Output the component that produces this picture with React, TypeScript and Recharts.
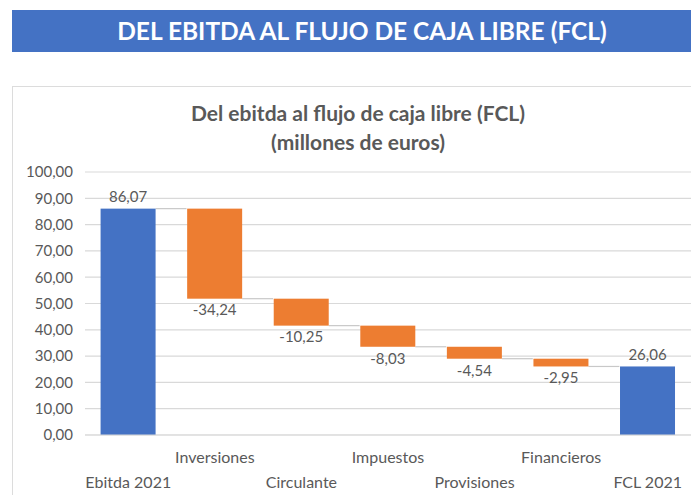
import { BarChart, Bar, XAxis, YAxis, CartesianGrid, Cell, LabelList } from "recharts";

const categories = ["Ebitda 2021", "Inversiones", "Circulante", "Impuestos", "Provisiones", "Financieros", "FCL 2021"];
const amounts = [86.07, -34.24, -10.25, -8.03, -4.54, -2.95, 26.06];
const isTotal = [true, false, false, false, false, false, true];
const yTicks = [0, 10, 20, 30, 40, 50, 60, 70, 80, 90, 100];

const BLUE = "#4472C4";
const ORANGE = "#ED7D31";
const GRAY_TEXT = "#595959";
const GAP_RATIO = 0.18;

// running totals -> floating ranges
let running = 0;
const data = categories.map((name, i) => {
  let low: number;
  let high: number;
  if (isTotal[i]) {
    low = 0;
    high = amounts[i];
    running = amounts[i];
  } else {
    high = running;
    running = running + amounts[i];
    low = running;
  }
  return { name, range: [low, high], amount: amounts[i], total: isTotal[i], level: running };
});

const fmt = (v: number) => v.toFixed(2).replace(".", ",");

const WaterfallShape = (props: any) => {
  const { x, y, width, height, fill, index } = props;
  const gap = (width * 2 * GAP_RATIO) / (1 - 2 * GAP_RATIO);
  const levelY = isTotal[index] ? y : y + height;
  return (
    <g>
      {index < categories.length - 1 && (
        <line x1={x + width} x2={x + width + gap} y1={levelY} y2={levelY} stroke="#c8c8c8" strokeWidth={1.2} />
      )}
      <rect x={x} y={y} width={width} height={height} fill={fill} />
    </g>
  );
};

const ValueLabel = (props: any) => {
  const { x, y, width, height, index } = props;
  const v = amounts[index];
  const ty = v >= 0 ? y - 10 : y + height + 13;
  return (
    <text x={x + width / 2} y={ty} textAnchor="middle" dominantBaseline="middle" fill={GRAY_TEXT} fontSize={15} fontFamily="Lato">
      {fmt(v)}
    </text>
  );
};

const StaggerTick = (props: any) => {
  const { x, y, payload, index } = props;
  const dy = index % 2 === 0 ? 41 : 16;
  return (
    <text x={x} y={y + dy} textAnchor="middle" dominantBaseline="middle" fill={GRAY_TEXT} fontSize={16} fontFamily="Lato">
      {payload.value}
    </text>
  );
};

export default function App() {
  return (
    <div style={{ position: "absolute", left: 0, top: 0, width: 691, height: 495, overflow: "hidden", background: "#fff", fontFamily: "Lato" }}>
      <div
        style={{
          position: "absolute", left: 12, top: 10, width: 700, height: 42, background: BLUE,
          color: "#fff", fontWeight: 700, fontSize: 24.5, lineHeight: "42px", textAlign: "center",
        }}
      >
        DEL EBITDA AL FLUJO DE CAJA LIBRE (FCL)
      </div>
      <div style={{ position: "absolute", left: 12, top: 86, width: 720, height: 440, border: "1.5px solid #dcdcdc" }} />
      <div style={{ position: "absolute", left: 0, top: 98, width: 716, textAlign: "center", color: GRAY_TEXT, fontWeight: 700, fontSize: 21, lineHeight: "29px" }}>
        <div>Del ebitda al flujo de caja libre (FCL)</div>
        <div>(millones de euros)</div>
      </div>
      <div style={{ position: "absolute", left: 0, top: 0 }}>
        <BarChart width={691} height={495} data={data} margin={{ top: 172, right: 0, bottom: 5, left: 0 }} barCategoryGap={`${GAP_RATIO * 100}%`}>
          <CartesianGrid vertical={false} stroke="#d9d9d9" strokeWidth={1.2} />
          <XAxis dataKey="name" interval={0} height={55} tickLine={false} axisLine={{ stroke: "#d9d9d9" }} tick={<StaggerTick />} />
          <YAxis
            width={85}
            domain={[0, 100]}
            ticks={yTicks}
            tickFormatter={fmt}
            axisLine={false}
            tickLine={false}
            tickMargin={6}
            tick={{ fill: GRAY_TEXT, fontSize: 15, fontFamily: "Lato" }}
          />
          <Bar dataKey="range" isAnimationActive={false} shape={<WaterfallShape />}>
            {data.map((d, i) => (
              <Cell key={i} fill={d.total ? BLUE : ORANGE} />
            ))}
            <LabelList dataKey="amount" content={<ValueLabel />} />
          </Bar>
        </BarChart>
      </div>
    </div>
  );
}
